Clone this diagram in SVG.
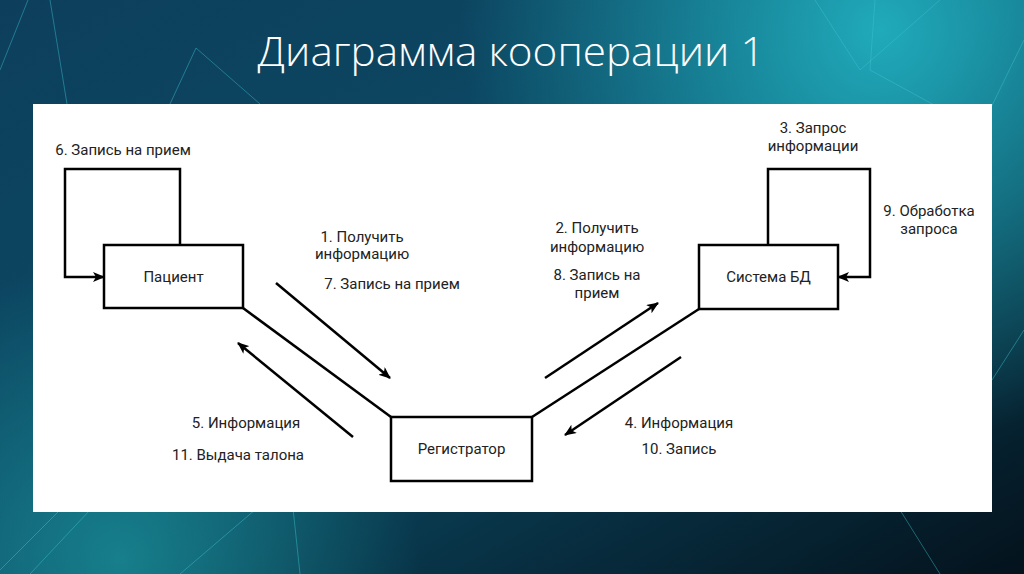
<svg xmlns="http://www.w3.org/2000/svg" width="1024" height="574" viewBox="0 0 1024 574">
<defs>
<linearGradient id="bg" x1="0" y1="0" x2="1" y2="1">
<stop offset="0" stop-color="#0d3f5c"/>
<stop offset="0.5" stop-color="#0b4a64"/>
<stop offset="1" stop-color="#04121c"/>
</linearGradient>
<radialGradient id="glow1" cx="880" cy="30" r="420" gradientUnits="userSpaceOnUse">
<stop offset="0" stop-color="#22b5c4" stop-opacity="0.9"/>
<stop offset="1" stop-color="#22b5c4" stop-opacity="0"/>
</radialGradient>
<radialGradient id="glow2" cx="120" cy="560" r="300" gradientUnits="userSpaceOnUse">
<stop offset="0" stop-color="#1a8d96" stop-opacity="0.8"/>
<stop offset="1" stop-color="#1a8d96" stop-opacity="0"/>
</radialGradient>
<marker id="ah" viewBox="0 0 12 10" refX="11" refY="5" markerWidth="12" markerHeight="10" markerUnits="userSpaceOnUse" orient="auto">
<path d="M0,0 L12,5 L0,10 L3,5 z" fill="#000"/>
</marker>
<style>
.box{fill:#fff;stroke:#000;stroke-width:2.5}
.ln{fill:none;stroke:#000;stroke-width:2.5}
.lbl{font-family:Roboto,"Liberation Sans",sans-serif;font-size:15px;fill:#222;text-anchor:middle}
.deco{fill:none;stroke:#3fc3d0;stroke-width:1;opacity:0.45}
</style>
</defs>
<rect x="0" y="0" width="1024" height="574" fill="url(#bg)"/>
<rect x="0" y="0" width="1024" height="574" fill="url(#glow1)"/>
<rect x="0" y="0" width="1024" height="574" fill="url(#glow2)"/>
<g id="decor">
<path class="deco" d="M0,70 L28,0 M50,0 L67,104 M170,104 L196,48 L260,104"/>
<path class="deco" d="M815,0 L860,70 L940,0 M875,0 L870,70 L980,130 L1024,40"/>
<path class="deco" d="M992,380 L1024,330 M0,570 L90,480 M30,574 L90,510 M180,574 L290,480 L300,574 M900,510 L940,574"/>
</g>
<text x="511" y="66" font-family="'Open Sans','Liberation Sans',sans-serif" font-size="40" font-weight="300" fill="#fff" text-anchor="middle" textLength="507" lengthAdjust="spacingAndGlyphs">Диаграмма кооперации 1</text>
<rect x="33" y="104" width="959" height="408" fill="#fff"/>
<g id="connectors">
<path class="ln" d="M180,245 V169 H65 V277 H104" marker-end="url(#ah)"/>
<path class="ln" d="M768,245 V169 H870 V277 H838" marker-end="url(#ah)"/>
<path class="ln" d="M243,308 L391,417"/>
<path class="ln" d="M532,417 L699,309"/>
<path class="ln" d="M276,283 L390,378" marker-end="url(#ah)"/>
<path class="ln" d="M353,437 L238,343" marker-end="url(#ah)"/>
<path class="ln" d="M545,378 L658,303" marker-end="url(#ah)"/>
<path class="ln" d="M681,357 L565,435" marker-end="url(#ah)"/>
</g>
<g id="patient">
<rect class="box" x="104" y="245" width="139" height="63"/>
<text class="lbl" x="173.5" y="282">Пациент</text>
</g>
<g id="registrator">
<rect class="box" x="391" y="417" width="141" height="64"/>
<text class="lbl" x="461.5" y="454">Регистратор</text>
</g>
<g id="sysdb">
<rect class="box" x="699" y="245" width="139" height="64"/>
<text class="lbl" x="768.5" y="282">Система БД</text>
</g>
<g id="labels">
<text class="lbl" x="123" y="155">6. Запись на прием</text>
<text class="lbl" x="813" y="133">3. Запрос</text>
<text class="lbl" x="813" y="151">информации</text>
<text class="lbl" x="929" y="216">9. Обработка</text>
<text class="lbl" x="929" y="234">запроса</text>
<text class="lbl" x="362" y="242">1. Получить</text>
<text class="lbl" x="362" y="259">информацию</text>
<text class="lbl" x="392" y="289">7. Запись на прием</text>
<text class="lbl" x="597" y="233">2. Получить</text>
<text class="lbl" x="597" y="252">информацию</text>
<text class="lbl" x="597" y="280">8. Запись на</text>
<text class="lbl" x="597" y="298">прием</text>
<text class="lbl" x="246" y="428">5. Информация</text>
<text class="lbl" x="238" y="460">11. Выдача талона</text>
<text class="lbl" x="679" y="428">4. Информация</text>
<text class="lbl" x="679" y="454">10. Запись</text>
</g>
</svg>
